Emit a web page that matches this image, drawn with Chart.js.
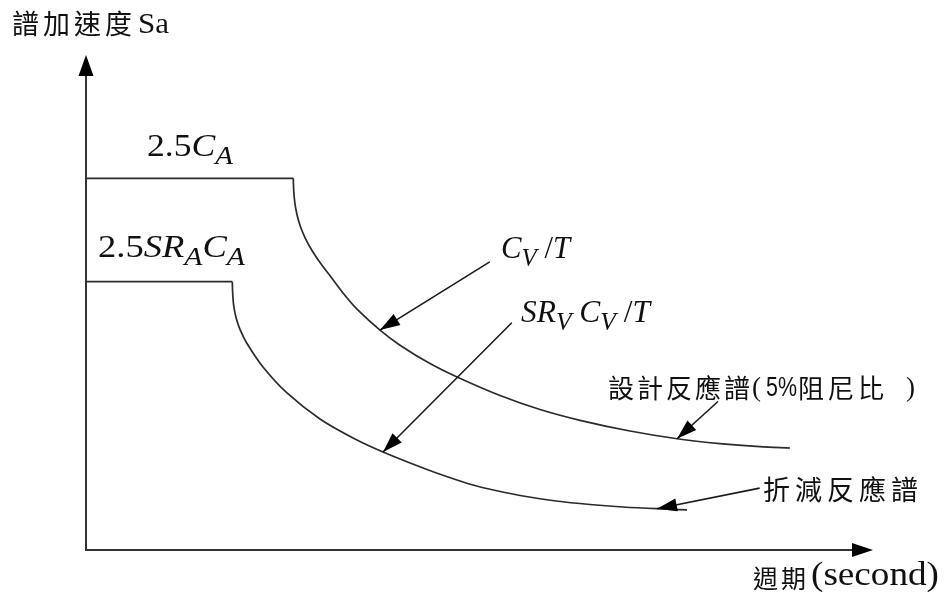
<!DOCTYPE html>
<html>
<head>
<meta charset="utf-8">
<script src="https://cdn.jsdelivr.net/npm/chart.js@4"></script>
<style>
  html, body { margin: 0; padding: 0; background: #fff; }
  #wrap { position: relative; width: 948px; height: 594px; }
</style>
</head>
<body>
<div id="wrap"><canvas id="spectrum"></canvas></div>
<script>
// period T (arbitrary units 0..10) and spectral acceleration Sa (0..10)
const designFlatT = [0, 2.634];
const designFlatSa = [7.509, 7.509];
const designCurveT = [2.634, 2.639, 2.653, 2.680, 2.723, 2.787, 2.870, 2.971, 3.113, 3.297, 3.443, 3.736,
  3.990, 4.371, 4.714, 5.261, 5.769, 6.277, 6.912, 7.510, 8.056, 8.564, 8.945];
const designCurveSa = [7.509, 7.267, 7.024, 6.782, 6.539, 6.297, 6.055, 5.812, 5.515, 5.131, 4.867, 4.442,
  4.137, 3.766, 3.495, 3.121, 2.838, 2.620, 2.404, 2.248, 2.149, 2.087, 2.061];

const reducedFlatT = [0, 1.859];
const reducedFlatSa = [5.420, 5.420];
const reducedCurveT = [1.859, 1.864, 1.877, 1.907, 1.958, 2.042, 2.249, 2.554, 2.973, 3.393, 3.774,
  4.282, 4.600, 4.917, 5.235, 5.553, 5.972, 6.404, 6.823, 7.255, 7.637];
const reducedCurveSa = [5.420, 5.178, 4.935, 4.693, 4.451, 4.182, 3.697, 3.172, 2.646, 2.263, 1.980,
  1.657, 1.475, 1.313, 1.192, 1.091, 0.990, 0.919, 0.869, 0.834, 0.812];

// leader arrows: tail -> tip (each tip sits on a curve point)
const pointerTail = [[5.13, 5.82], [5.41, 4.59], [8.03, 3.00], [8.56, 1.25]];
const pointerTip = [[3.736, 4.442], [3.774, 1.980], [7.510, 2.248], [7.255, 0.834]];

const axisMax = 10;

const toPoints = (xs, ys) => xs.map((x, i) => ({ x, y: ys[i] }));

const lineStyle = {
  showLine: true,
  borderColor: '#2b2b2b',
  borderWidth: 1.7,
  pointRadius: 0,
  fill: false
};

function arrowHead(ctx, x1, y1, x2, y2, len, half) {
  const a = Math.atan2(y2 - y1, x2 - x1);
  ctx.beginPath();
  ctx.moveTo(x2, y2);
  ctx.lineTo(x2 - len * Math.cos(a) + half * Math.sin(a), y2 - len * Math.sin(a) - half * Math.cos(a));
  ctx.lineTo(x2 - len * Math.cos(a) - half * Math.sin(a), y2 - len * Math.sin(a) + half * Math.cos(a));
  ctx.closePath();
  ctx.fill();
}

// draws text squeezed/stretched to a given width
function fitText(ctx, text, font, x, baseline, width) {
  ctx.save();
  ctx.font = font;
  const w = ctx.measureText(text).width;
  ctx.translate(x, baseline);
  ctx.scale(width / w, 1);
  ctx.fillText(text, 0, 0);
  ctx.restore();
}

// math-like label: parts = [text, italic, subscript]
function mathLabel(ctx, x, baseline, width, parts) {
  const fontOf = (italic, sub) => `${italic ? 'italic ' : ''}${sub ? 26 : 32}px "Liberation Serif"`;
  let total = 0;
  parts.forEach(([t, it, sub]) => { ctx.font = fontOf(it, sub); total += ctx.measureText(t).width; });
  ctx.save();
  ctx.translate(x, baseline);
  ctx.scale(width / total, 1);
  let cx = 0;
  parts.forEach(([t, it, sub]) => {
    ctx.font = fontOf(it, sub);
    ctx.fillText(t, cx, sub ? 8 : 0);
    cx += ctx.measureText(t).width;
  });
  ctx.restore();
}

function cjk(ctx, text, x, baseline, pitch, size) {
  ctx.font = `${size}px "Noto Sans CJK TC"`;
  [...text].forEach((c, i) => ctx.fillText(c, x + i * pitch, baseline));
}

const sketch = {
  id: 'sketch',
  afterDatasetsDraw(chart) {
    const { ctx, scales: { x, y } } = chart;
    const x0 = x.getPixelForValue(0), y0 = y.getPixelForValue(0);
    const xEnd = x.getPixelForValue(axisMax), yEnd = y.getPixelForValue(axisMax);

    ctx.save();
    // axes with arrowheads
    ctx.strokeStyle = '#333';
    ctx.fillStyle = '#000';
    ctx.lineWidth = 2;
    ctx.beginPath();
    ctx.moveTo(x0, y0 + 1);
    ctx.lineTo(x0, yEnd + 18);
    ctx.moveTo(x0 - 1, y0);
    ctx.lineTo(xEnd - 18, y0);
    ctx.stroke();
    arrowHead(ctx, x0, y0, x0, yEnd, 21, 7.5);
    arrowHead(ctx, x0, y0, xEnd, y0, 21, 7);

    // leader arrows
    ctx.strokeStyle = '#1a1a1a';
    ctx.lineWidth = 1.6;
    pointerTail.forEach((t, i) => {
      const ax = x.getPixelForValue(t[0]), ay = y.getPixelForValue(t[1]);
      const bx = x.getPixelForValue(pointerTip[i][0]), by = y.getPixelForValue(pointerTip[i][1]);
      ctx.beginPath();
      ctx.moveTo(ax, ay);
      ctx.lineTo(bx, by);
      ctx.stroke();
      arrowHead(ctx, ax, ay, bx, by, 20, 6.5);
    });

    // labels
    ctx.fillStyle = '#111';
    ctx.textBaseline = 'alphabetic';
    mathLabel(ctx, 147, 156, 86, [['2.5', false, false], ['C', true, false], ['A', true, true]]);
    mathLabel(ctx, 98, 257, 147, [['2.5', false, false], ['SR', true, false], ['A', true, true], ['C', true, false], ['A', true, true]]);
    mathLabel(ctx, 501, 258, 69, [['C', true, false], ['V', true, true], [' /', false, false], ['T', true, false]]);
    mathLabel(ctx, 521, 322, 129, [['SR', true, false], ['V', true, true], [' C', true, false], ['V', true, true], [' /', false, false], ['T', true, false]]);

    cjk(ctx, '譜加速度', 12, 34, 31, 27);
    fitText(ctx, 'Sa', '30px "Liberation Serif"', 138, 33, 31);

    cjk(ctx, '設計反應譜', 608, 398, 29, 26);
    fitText(ctx, '(', '28px "Liberation Serif"', 752, 396, 9);
    fitText(ctx, '5%', '27px "Liberation Sans"', 766, 396, 31);
    cjk(ctx, '阻尼比', 798, 398, 30, 26);
    fitText(ctx, ')', '28px "Liberation Serif"', 906, 396, 9);

    cjk(ctx, '折減反應譜', 763, 500, 32, 27);

    cjk(ctx, '週期', 753, 588, 28, 25);
    fitText(ctx, '(second)', '33px "Liberation Serif"', 811, 585, 128);
    ctx.restore();
  }
};

new Chart(document.getElementById('spectrum'), {
  type: 'scatter',
  data: {
    datasets: [
      { ...lineStyle, data: toPoints(designFlatT, designFlatSa) },
      { ...lineStyle, data: toPoints(designCurveT, designCurveSa), tension: 0.3 },
      { ...lineStyle, data: toPoints(reducedFlatT, reducedFlatSa) },
      { ...lineStyle, data: toPoints(reducedCurveT, reducedCurveSa), tension: 0.3 }
    ]
  },
  options: {
    responsive: true,
    maintainAspectRatio: false,
    animation: false,
    devicePixelRatio: 1,
    layout: { padding: { left: 86, right: 75, top: 55, bottom: 44 } },
    plugins: { legend: { display: false }, tooltip: { enabled: false } },
    scales: {
      x: { type: 'linear', min: 0, max: axisMax, display: false },
      y: { type: 'linear', min: 0, max: axisMax, display: false }
    }
  },
  plugins: [sketch]
});
</script>
</body>
</html>
